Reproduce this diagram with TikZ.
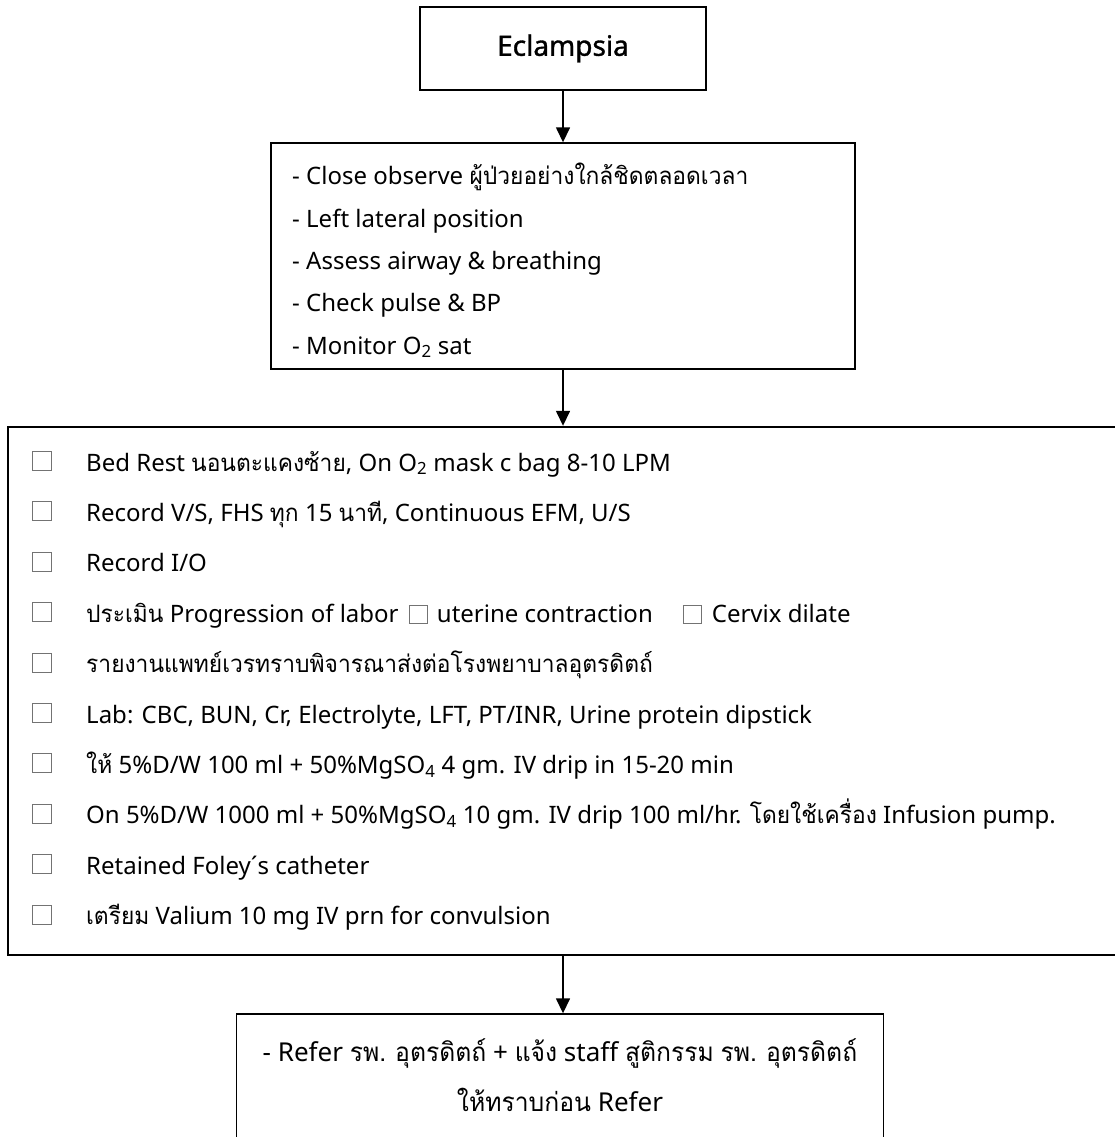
\documentclass[tikz,border=0pt]{standalone}
\usepackage{fontspec}
\setmainfont{Noto Sans}
\newfontfamily\thaifont{Loma}[Script=Thai, FakeStretch=0.95]
\newfontface\titlefont{Noto Sans}[FakeBold=1.2]
\newcommand{\tht}[1]{{\thaifont #1}}
\usetikzlibrary{arrows.meta,fit}
\tikzset{
  box/.style={draw=black, line width=1.4pt, rectangle, inner sep=0pt},
  line/.style={anchor=base west, inner sep=0pt, font=\fontsize{24}{28}\selectfont},
  cline/.style={anchor=base, inner sep=0pt, font=\fontsize{26}{30}\selectfont},
  chk/.style={draw=black!55, line width=0.9pt, minimum width=19pt, minimum height=19pt, inner sep=0pt},
  flow/.style={line width=1.5pt, -{Triangle[length=15pt,width=14pt]}}
}
\newcommand{\inbox}{\raisebox{-1pt}{{\color{black!55}\setlength{\fboxrule}{0.9pt}\setlength{\fboxsep}{0pt}\fbox{\rule{0pt}{17pt}\hspace{17pt}}}}}
\begin{document}
\begin{tikzpicture}[x=1pt,y=-1pt]
\useasboundingbox (0,0) rectangle (1115,1137);
\clip (0,0) rectangle (1115,1137);
% box 1
\node[box, line width=1.8pt, minimum width=286pt, minimum height=83pt, font=\fontsize{28}{32}\titlefont] (b1) at (563,48.5) {Eclampsia};
% box 2
\node[box, minimum width=584pt, minimum height=226pt] (b2) at (563,256) {};
\node[line] (t21) at (292,184) {- Close observe \tht{ผู้ป่วยอย่างใกล้ชิดตลอดเวลา}};
\node[line] (t22) at (292,227) {- Left lateral position};
\node[line] (t23) at (292,269) {- Assess airway \& breathing};
\node[line] (t24) at (292,311) {- Check pulse \& BP};
\node[line] (t25) at (292,354) {- Monitor O\textsubscript{2} sat};
% box 3
\node[box, line width=2.4pt, minimum width=1122pt, minimum height=528pt] (b3) at (569,691) {};
\foreach \i in {1,...,10}{
  \node[chk] (c\i) at (42,{461+50.4*(\i-1)}) {};
}
\node[line] (r1) at (86,471.0) {Bed Rest \tht{นอนตะแคงซ้าย}, On O\textsubscript{2} mask c bag 8-10 LPM};
\node[line] (r2) at (86,521.4) {Record V/S, FHS \tht{ทุก} 15 \tht{นาที}, Continuous EFM, U/S};
\node[line] (r3) at (86,571.8) {Record I/O};
\node[line] (r4) at (86,622.2) {\tht{ประเมิน} Progression of labor\hspace{4pt} \inbox\hspace{3pt} uterine contraction\hspace{30pt}\inbox\hspace{4pt} Cervix dilate};
\node[line] (r5) at (86,672.6) {\tht{รายงานแพทย์เวรทราบพิจารณาส่งต่อโรงพยาบาลอุตรดิตถ์}};
\node[line] (r6) at (86,723.0) {Lab: CBC, BUN, Cr, Electrolyte, LFT, PT/INR, Urine protein dipstick};
\node[line] (r7) at (86,773.4) {\tht{ให้} 5\%D/W 100 ml + 50\%MgSO\textsubscript{4} 4 gm. IV drip in 15-20 min};
\node[line] (r8) at (86,823.8) {On 5\%D/W 1000 ml + 50\%MgSO\textsubscript{4} 10 gm. IV drip 100 ml/hr. \tht{โดยใช้เครื่อง} Infusion pump.};
\node[line] (r9) at (86,874.2) {Retained Foley´s catheter};
\node[line] (r10) at (86,924.6) {\tht{เตรียม} Valium 10 mg IV prn for convulsion};
% box 4
\node[cline] (t41) at (560,1061) {- Refer \tht{รพ.} \tht{อุตรดิตถ์} + \tht{แจ้ง} staff \tht{สูติกรรม} \tht{รพ.} \tht{อุตรดิตถ์}};
\node[cline] (t42) at (560,1111) {\tht{ให้ทราบก่อน} Refer};
\coordinate (b4top) at (560,1014);
\coordinate (b4bot) at (560,1170);
\node[box, fit=(t41)(t42)(b4top)(b4bot), inner xsep=26pt, inner ysep=0pt] (b4) {};
% connectors
\draw[flow] (b1.south) -- (b2.north -| b1.south);
\draw[flow] (b2.south -| b1.south) -- (b3.north -| b1.south);
\draw[flow] (b3.south -| b1.south) -- (b4.north -| b1.south);
\end{tikzpicture}
\end{document}
